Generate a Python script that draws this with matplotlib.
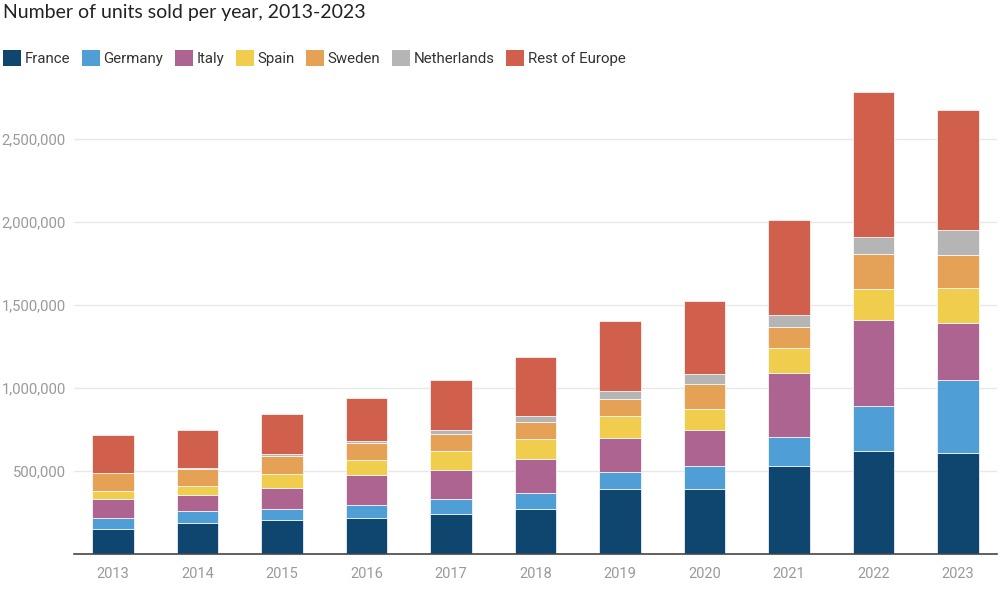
import matplotlib
matplotlib.use("Agg")
import matplotlib.pyplot as plt
import numpy as np
from matplotlib.ticker import FuncFormatter

years = ["2013", "2014", "2015", "2016", "2017", "2018", "2019", "2020", "2021", "2022", "2023"]
france      = [151000, 189000, 207000, 217000, 243000, 271000, 395000, 392000, 534000, 622000, 608000]
germany     = [68000, 70000, 68000, 80000, 92000, 100000, 103000, 138000, 173000, 273000, 438000]
italy       = [112000, 98000, 123000, 181000, 175000, 201000, 205000, 221000, 383000, 512000, 346000]
spain       = [52000, 56000, 84000, 90000, 110000, 121000, 130000, 126000, 149000, 189000, 210000]
sweden      = [105000, 103000, 112000, 99000, 105000, 106000, 103000, 149000, 130000, 213000, 197000]
netherlands = [4000, 5000, 8000, 15000, 24000, 34000, 48000, 56000, 71000, 101000, 150000]
rest        = [224000, 229000, 245000, 258000, 299000, 354000, 421000, 442000, 574000, 869000, 726000]

series_names = ["France", "Germany", "Italy", "Spain", "Sweden", "Netherlands", "Rest of Europe"]
series = [france, germany, italy, spain, sweden, netherlands, rest]
colors = ["#0e4670", "#4f9fd6", "#ad6490", "#f1cd4d", "#e5a156", "#b5b5b5", "#d05f4b"]
yticks = [500000, 1000000, 1500000, 2000000, 2500000]

fig = plt.figure(figsize=(10, 6), dpi=100)
ax = fig.add_axes([0.074, 0.076, 0.923, 0.776])

x = np.arange(len(years))
bottom = np.zeros(len(years))
handles = []
for name, vals, c in zip(series_names, series, colors):
    v = np.array(vals, dtype=float)
    b = ax.bar(x, v, 0.49, bottom=bottom, color=c, edgecolor="#ffffff", linewidth=0.5, label=name, zorder=3)
    handles.append(b)
    bottom += v

ax.set_xlim(-0.46, len(years) - 0.54)
ax.set_ylim(0, 2800000)
ax.set_yticks(yticks)
ax.yaxis.set_major_formatter(FuncFormatter(lambda v, p: f"{int(v):,}"))
ax.set_xticks(x)
ax.set_xticklabels(years)
ax.grid(axis="y", color="#e8e8e8", linewidth=1, zorder=0)
ax.set_axisbelow(True)
for s in ["top", "right", "left"]:
    ax.spines[s].set_visible(False)
ax.spines["bottom"].set_color("#444444")
ax.spines["bottom"].set_linewidth(1.2)
ax.spines["bottom"].set_zorder(4)
ax.tick_params(axis="both", length=0, labelcolor="#9a9a9a")
ax.tick_params(axis="y", pad=6, labelsize=10.7)
ax.tick_params(axis="x", pad=9, labelsize=10.5)
for lab in ax.get_xticklabels() + ax.get_yticklabels():
    lab.set_fontfamily("Roboto")

fig.text(0.003, 0.993, "Number of units sold per year, 2013-2023", fontsize=14,
         fontfamily="Lato", color="#222222", ha="left", va="top")

leg = fig.legend(handles=handles, labels=series_names, loc="center left",
                 bbox_to_anchor=(0.0, 0.903), ncol=7, frameon=False,
                 handlelength=1.2, handleheight=1.25, handletextpad=0.25,
                 columnspacing=0.76, borderaxespad=0, borderpad=0.2,
                 prop={"family": "Roboto", "size": 10.8})
for t in leg.get_texts():
    t.set_color("#333333")
for p in leg.get_patches():
    p.set_edgecolor("none")

fig.savefig("out.png", dpi=100)
